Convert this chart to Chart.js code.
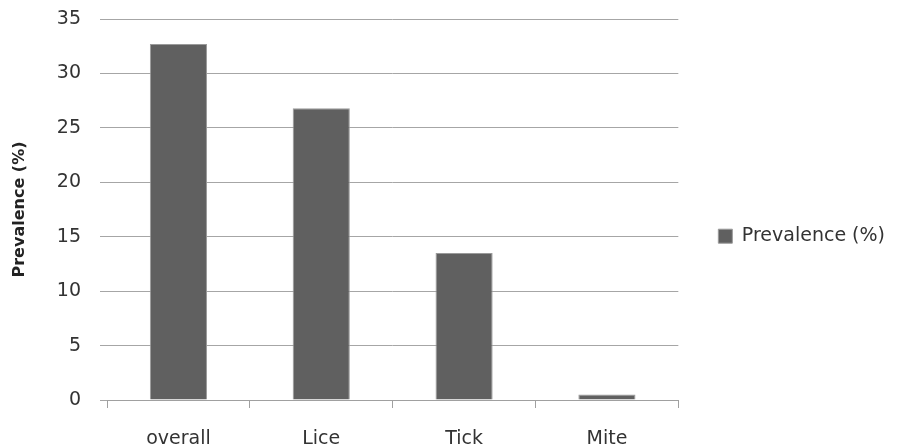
<!DOCTYPE html>
<html>
<head>
<meta charset="utf-8">
<script src="https://cdn.jsdelivr.net/npm/chart.js@4.4.1/dist/chart.umd.min.js"></script>
<style>
  html, body { margin: 0; padding: 0; background: #fff; }
  #wrap { width: 897px; height: 448px; }
</style>
</head>
<body>
<div id="wrap"><canvas id="myChart" width="897" height="448"></canvas></div>
<script>
var categories = ['overall', 'Lice', 'Tick', 'Mite'];
var prevalence = [32.7, 26.8, 13.5, 0.5];
var seriesName = 'Prevalence (%)';
var yTicks = { min: 0, max: 35, step: 5 };

var ctx = document.getElementById('myChart').getContext('2d');
var myChart = new Chart(ctx, {
  type: 'bar',
  data: {
    labels: categories,
    datasets: [{
      label: seriesName,
      data: prevalence,
      backgroundColor: '#606060',
      borderColor: '#9a9a9a',
      borderWidth: 1,
      categoryPercentage: 1.0,
      barPercentage: 0.4
    }]
  },
  options: {
    responsive: false,
    animation: false,
    layout: { padding: { top: 19, left: 8, right: 2, bottom: 0 } },
    plugins: {
      legend: {
        position: 'right',
        // tiny empty title nudges the legend item down a few px
        title: { display: true, text: ' ', font: { size: 2 }, padding: 1.5 },
        labels: {
          boxWidth: 14,
          boxHeight: 14,
          padding: 40,
          color: '#333',
          font: { family: 'DejaVu Sans', size: 19 }
        }
      },
      tooltip: { enabled: false }
    },
    scales: {
      x: {
        afterFit: function (scale) { scale.height = 48; },
        grid: { drawOnChartArea: false, drawTicks: true, tickLength: 8, color: '#a0a0a0' },
        border: { display: true, color: '#a0a0a0' },
        ticks: { padding: 20, color: '#333', font: { family: 'DejaVu Sans', size: 19 } }
      },
      y: {
        min: yTicks.min,
        max: yTicks.max,
        // keep the label gap from pushing the plot area down
        afterFit: function (scale) {
          scale.width = 99;
          scale.paddingTop = 0;
          scale.paddingBottom = 0;
        },
        grid: { color: '#a6a6a6', tickLength: 7 },
        border: { display: false },
        ticks: { stepSize: yTicks.step, padding: 19, color: '#333', font: { family: 'DejaVu Sans', size: 19 } },
        title: {
          display: true,
          text: seriesName,
          color: '#222',
          font: { family: 'DejaVu Sans', size: 16, weight: 'bold' },
          padding: { top: 2, bottom: 10 }
        }
      }
    }
  }
});
</script>
</body>
</html>
